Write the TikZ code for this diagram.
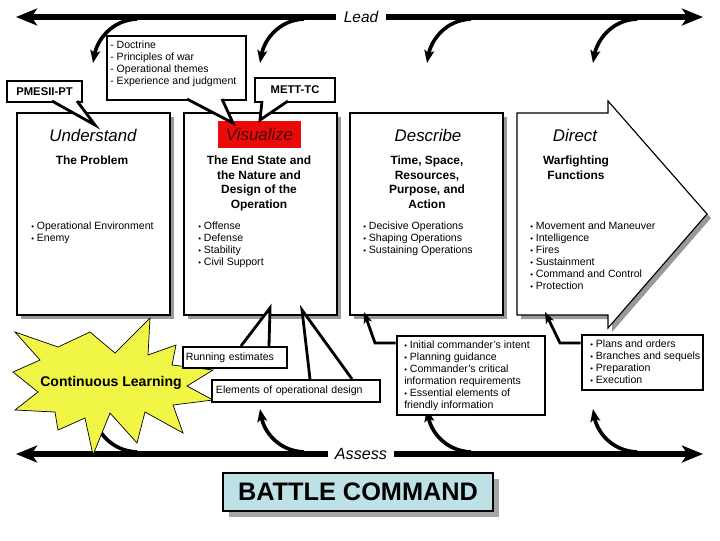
\documentclass[tikz,border=0pt]{standalone}
\usepackage{fontspec}
\setmainfont{Liberation Sans}
\usetikzlibrary{arrows.meta,shadows}

\definecolor{starfill}{RGB}{240,245,70}
\definecolor{vizred}{RGB}{235,10,10}
\definecolor{vizdark}{RGB}{70,0,0}
\definecolor{bcblue}{RGB}{190,225,230}

\newcommand{\itm}{\raisebox{.12ex}{\fontsize{5.5}{5}\selectfont\textbullet}\ }

\tikzset{
    colshadow/.style={drop shadow={shadow xshift=0.1cm, shadow yshift=-0.1cm, fill=black!40, opacity=1}},
    colbox/.style={draw, line width=0.8pt, fill=white, minimum width=3.825cm, minimum height=5.05cm, colshadow},
    callbox/.style={draw, line width=2pt, fill=white, inner sep=0pt},
    pointer/.style={line width=2pt, fill=white, line join=miter},
    head/.style={font=\fontsize{12}{14}\selectfont\itshape, inner sep=0pt},
    subhead/.style={font=\fontsize{8.5}{10.4}\selectfont\bfseries, align=center, inner sep=0pt, anchor=north},
    bullets/.style={font=\fontsize{7.5}{8.54}\selectfont, align=left, inner sep=0pt, anchor=north west},
    tag/.style={font=\fontsize{8}{9}\selectfont\bfseries},
    mainline/.style={line width=4pt, -{Stealth[length=15pt,width=12pt,inset=4pt]}},
    bendarrow/.style={line width=2.6pt, -{Stealth[length=9pt,width=7pt,inset=2pt]}},
    linkarrow/.style={line width=2pt, -{Stealth[length=8pt,width=6pt,inset=2pt]}}
}

\begin{document}
\begin{tikzpicture}[x=0.025cm, y=-0.025cm]
    \useasboundingbox (0,0) rectangle (720,540);

    % lead and assess lines
    \node[font=\fontsize{11}{12}\selectfont\itshape, inner xsep=5pt] (lead) at (361,17) {Lead};
    \coordinate (leadL) at (16,17);
    \coordinate (leadR) at (703,17);
    \draw[mainline] (lead.west) -- (leadL);
    \draw[mainline] (lead.east) -- (leadR);

    \node[font=\fontsize{11.5}{12}\selectfont\itshape, inner xsep=5pt] (assess) at (361,454) {Assess};
    \coordinate (assessL) at (16,454);
    \coordinate (assessR) at (703,454);
    \draw[mainline] (assess.west) -- (assessL);
    \draw[mainline] (assess.east) -- (assessR);

    \foreach \x [count=\i] in {93,260,427,593} {
        \coordinate (lfrom\i) at (\x+44,19);
        \coordinate (lto\i) at (\x,63);
        \draw[bendarrow] (lfrom\i) .. controls +(-26,1) and +(4,-22) .. (lto\i);
        \coordinate (afrom\i) at (\x+44,452);
        \coordinate (ato\i) at (\x,409);
        \draw[bendarrow] (afrom\i) .. controls +(-26,-1) and +(4,22) .. (ato\i);
    }

    % columns
    \node[colbox] (under) at (93.5,214) {};
    \node[colbox] (visual) at (260.5,214) {};
    \node[colbox] (descr) at (426.5,214) {};
    \filldraw[fill=white, line width=0.8pt, colshadow] (517,113) -- (608,113) -- (608,101) -- (707,214)
        -- (608,328) -- (608,315) -- (517,315) -- cycle;

    \node[head] (hund) at (93,135) {Understand};
    \node[head, fill=vizred, text=vizdark, minimum width=2.075cm, minimum height=0.675cm] (hvis) at (259.5,134.5) {Visualize};
    \node[head] (hdes) at (428,135) {Describe};
    \node[head] (hdir) at (575,135) {Direct};

    \node[subhead] (sund) at (92,155.5) {The Problem};
    \node[subhead] (svis) at (259,155.5) {The End State and\\the Nature and\\Design of the\\Operation};
    \node[subhead] (sdes) at (427,155.5) {Time, Space,\\Resources,\\Purpose, and\\Action};
    \node[subhead] (sdir) at (576,155.5) {Warfighting\\Functions};

    \node[bullets] (bund) at (31,222) {\itm Operational Environment\\\itm Enemy};
    \node[bullets] (bvis) at (198,222) {\itm Offense\\\itm Defense\\\itm Stability\\\itm Civil Support};
    \node[bullets] (bdes) at (363,222) {\itm Decisive Operations\\\itm Shaping Operations\\\itm Sustaining Operations};
    \node[bullets] (bdir) at (530,222) {\itm Movement and Maneuver\\\itm Intelligence\\\itm Fires\\\itm Sustainment\\\itm Command and Control\\\itm Protection};

    % callouts on top
    \node[callbox, tag, minimum width=1.875cm, minimum height=0.525cm] (pmesii) at (44.5,91.5) {PMESII-PT};
    \filldraw[pointer] (52,101) -- (95,125) -- (77,101);

    \node[callbox, minimum width=3.475cm, minimum height=1.6cm] (doct) at (176.5,68) {};
    \node[bullets] (doctxt) at (110,41) {- Doctrine\\- Principles of war\\- Operational themes\\- Experience and judgment};
    \filldraw[pointer] (187,99) -- (233,123) -- (222,99);

    \node[callbox, tag, minimum width=2cm, minimum height=0.6cm] (mett) at (295,90) {METT-TC};
    \filldraw[pointer] (262,101) -- (260,120) -- (288,101);

    % star
    \filldraw[fill=starfill, line width=0.5pt] (150,318) -- (148,355) -- (176,345) -- (172,365) -- (213,370)
        -- (187,386) -- (213,400) -- (173,405) -- (183,433) -- (145,412) -- (137,443) -- (110,413)
        -- (93,455) -- (85,418) -- (58,430) -- (55,412) -- (15,410) -- (38,392) -- (13,372)
        -- (40,360) -- (15,332) -- (58,347) -- (90,332) -- (115,353) -- cycle;
    \node[font=\fontsize{10}{12}\selectfont\bfseries] (learn) at (111,383) {Continuous Learning};

    % callouts below
    \node[callbox, font=\fontsize{7.5}{8.54}\selectfont, minimum width=2.6cm, minimum height=0.525cm,
        text width=2.45cm, align=left] (runest) at (235,357.5) {Running estimates};
    \filldraw[pointer] (241,346) -- (270,308) -- (269,346);

    \node[callbox, font=\fontsize{7.5}{8.54}\selectfont, minimum width=4.2cm, minimum height=0.55cm,
        text width=4.0cm, align=left] (design) at (296,391) {Elements of operational design};
    \filldraw[pointer] (310,379) -- (302,310) -- (352,379);

    \node[callbox, minimum width=3.7cm, minimum height=1.975cm] (intent) at (471,375.5) {};
    \node[bullets] (intenttxt) at (404,341) {\itm Initial commander's intent\\\itm Planning guidance\\\itm Commander's critical\\information requirements\\\itm Essential elements of\\friendly information};
    \coordinate (intentelbow) at (375,343);
    \coordinate (descrfoot) at (364,312);
    \draw[linkarrow] (intent.west |- intentelbow) -- (intentelbow) -- (descrfoot);

    \node[callbox, minimum width=3.025cm, minimum height=1.375cm] (plans) at (642.5,362.5) {};
    \node[bullets] (planstxt) at (590,340) {\itm Plans and orders\\\itm Branches and sequels\\\itm Preparation\\\itm Execution};
    \coordinate (planselbow) at (560,343);
    \coordinate (directfoot) at (545,312);
    \draw[linkarrow] (plans.west |- planselbow) -- (planselbow) -- (directfoot);

    % battle command
    \node[draw, line width=2pt, fill=bcblue, minimum width=6.75cm, minimum height=0.95cm,
        font=\fontsize{18}{20}\selectfont\bfseries,
        drop shadow={shadow xshift=0.15cm, shadow yshift=-0.15cm, fill=black!35, opacity=1}] (battle) at (358,492) {BATTLE COMMAND};
\end{tikzpicture}
\end{document}
